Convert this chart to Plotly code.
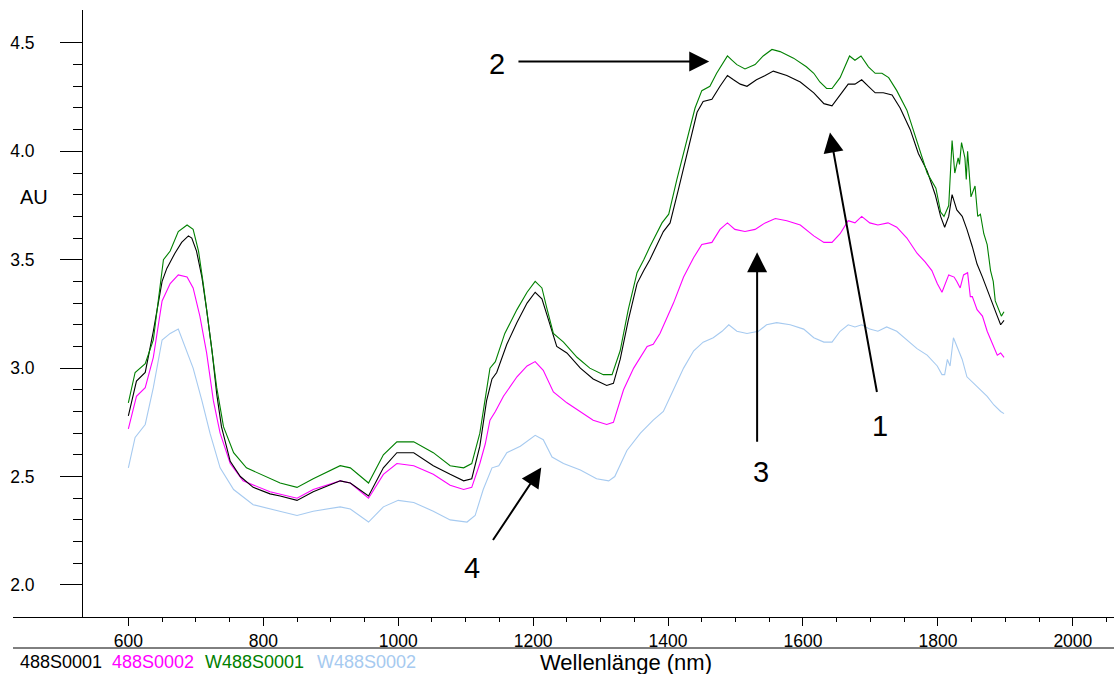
import plotly.graph_objects as go

# ---------------- data ----------------
wl_488S0001 = [600, 612, 625, 637, 650, 657, 669, 679, 689, 694, 701, 709, 716, 724, 731, 738, 751, 766, 785,
               810, 825, 850, 874, 914, 929, 956, 978, 998, 1023, 1052, 1077, 1097, 1109, 1121, 1131, 1139, 1146,
               1161, 1176, 1191, 1203, 1213, 1223, 1235, 1250, 1270, 1289, 1309, 1319, 1329, 1341, 1354, 1364,
               1373, 1393, 1403, 1415, 1430, 1443, 1452, 1465, 1477, 1488, 1497, 1507, 1517, 1531, 1544, 1556,
               1576, 1596, 1616, 1631, 1643, 1655, 1667, 1677, 1687, 1697, 1707, 1719, 1732, 1744, 1759, 1771,
               1784, 1796, 1804, 1810, 1816, 1821, 1828, 1836, 1843, 1851, 1858, 1866, 1873, 1881, 1888, 1893, 1898]
au_488S0001 = [2.78, 2.94, 2.98, 3.17, 3.40, 3.46, 3.53, 3.58, 3.61, 3.60, 3.54, 3.42, 3.27, 3.08, 2.88, 2.73, 2.57,
               2.50, 2.45, 2.42, 2.41, 2.39, 2.43, 2.48, 2.47, 2.41, 2.54, 2.61, 2.61, 2.55, 2.51, 2.48, 2.49, 2.64,
               2.85, 2.95, 2.98, 3.11, 3.21, 3.30, 3.35, 3.32, 3.22, 3.10, 3.07, 3.00, 2.95, 2.92, 2.93, 3.04, 3.22,
               3.39, 3.45, 3.50, 3.63, 3.67, 3.82, 4.02, 4.18, 4.23, 4.24, 4.30, 4.35, 4.33, 4.31, 4.30, 4.33, 4.35,
               4.37, 4.35, 4.32, 4.27, 4.22, 4.21, 4.26, 4.31, 4.31, 4.33, 4.30, 4.27, 4.27, 4.26, 4.20, 4.10, 3.99,
               3.91, 3.80, 3.70, 3.65, 3.70, 3.80, 3.73, 3.70, 3.64, 3.56, 3.48, 3.42, 3.36, 3.30, 3.24, 3.20, 3.22]

wl_488S0002 = [600, 612, 625, 637, 650, 662, 674, 687, 696, 706, 716, 726, 736, 751, 770, 795, 810, 850, 874, 914,
               929, 956, 978, 998, 1023, 1052, 1077, 1097, 1109, 1121, 1129, 1136, 1144, 1156, 1176, 1191, 1203,
               1215, 1230, 1250, 1270, 1289, 1309, 1319, 1334, 1349, 1369, 1378, 1388, 1408, 1423, 1438, 1450,
               1465, 1477, 1488, 1499, 1514, 1529, 1544, 1559, 1576, 1596, 1616, 1631, 1643, 1655, 1667, 1677,
               1687, 1699, 1711, 1726, 1739, 1754, 1769, 1781, 1791, 1799, 1806, 1816, 1824, 1828, 1833, 1838,
               1844, 1848, 1851, 1858, 1866, 1873, 1881, 1888, 1893, 1898]
au_488S0002 = [2.72, 2.87, 2.91, 3.05, 3.31, 3.39, 3.43, 3.42, 3.37, 3.24, 3.07, 2.85, 2.70, 2.56, 2.48, 2.45, 2.43,
               2.40, 2.44, 2.48, 2.47, 2.40, 2.51, 2.56, 2.55, 2.51, 2.46, 2.44, 2.45, 2.56, 2.65, 2.76, 2.80, 2.87,
               2.96, 3.01, 3.03, 2.99, 2.89, 2.84, 2.80, 2.76, 2.74, 2.75, 2.90, 3.00, 3.10, 3.11, 3.16, 3.30, 3.42,
               3.51, 3.57, 3.58, 3.64, 3.67, 3.64, 3.63, 3.64, 3.67, 3.69, 3.68, 3.66, 3.61, 3.58, 3.58, 3.62, 3.68,
               3.67, 3.70, 3.67, 3.66, 3.67, 3.65, 3.60, 3.53, 3.49, 3.45, 3.39, 3.35, 3.43, 3.42, 3.40, 3.37, 3.43,
               3.44, 3.33, 3.33, 3.27, 3.24, 3.17, 3.11, 3.06, 3.07, 3.05]

wl_W488S0001 = [600, 610, 625, 637, 652, 662, 674, 687, 696, 704, 711, 721, 731, 741, 756, 775, 805, 825, 850, 874,
                914, 929, 956, 978, 998, 1023, 1052, 1077, 1097, 1109, 1121, 1129, 1136, 1144, 1158, 1176, 1191,
                1203, 1213, 1220, 1230, 1245, 1265, 1284, 1304, 1317, 1329, 1341, 1354, 1364, 1373, 1391, 1401,
                1413, 1428, 1440, 1450, 1462, 1472, 1482, 1488, 1495, 1502, 1514, 1529, 1541, 1554, 1566, 1586,
                1605, 1616, 1625, 1635, 1643, 1655, 1669, 1677, 1686, 1697, 1707, 1717, 1727, 1739, 1754, 1769,
                1784, 1797, 1804, 1809, 1816, 1821, 1825, 1830, 1832, 1835, 1840, 1842, 1844, 1849, 1855, 1859,
                1863, 1868, 1873, 1878, 1882, 1885, 1890, 1894, 1898]
au_W488S0001 = [2.84, 2.98, 3.02, 3.13, 3.50, 3.54, 3.63, 3.66, 3.64, 3.54, 3.39, 3.16, 2.91, 2.73, 2.61, 2.54, 2.50,
                2.47, 2.45, 2.49, 2.55, 2.54, 2.47, 2.60, 2.66, 2.66, 2.61, 2.55, 2.54, 2.56, 2.70, 2.85, 3.00, 3.03,
                3.16, 3.27, 3.35, 3.40, 3.37, 3.28, 3.16, 3.12, 3.05, 3.00, 2.97, 2.97, 3.08, 3.27, 3.44, 3.50, 3.56,
                3.67, 3.71, 3.87, 4.05, 4.20, 4.28, 4.30, 4.36, 4.41, 4.44, 4.42, 4.40, 4.38, 4.40, 4.44, 4.47, 4.46,
                4.43, 4.39, 4.36, 4.32, 4.29, 4.29, 4.34, 4.44, 4.42, 4.44, 4.39, 4.36, 4.36, 4.34, 4.28, 4.19, 4.04,
                3.90, 3.83, 3.72, 3.70, 3.75, 4.05, 3.90, 3.97, 3.94, 4.04, 3.97, 3.87, 4.00, 3.79, 3.84, 3.70, 3.71,
                3.62, 3.57, 3.45, 3.40, 3.31, 3.27, 3.24, 3.26]

wl_W488S0002 = [600, 610, 625, 637, 650, 662, 674, 684, 696, 709, 721, 736, 756, 785, 825, 850, 874, 914, 929, 956,
                978, 1000, 1023, 1052, 1077, 1102, 1114, 1126, 1139, 1149, 1161, 1181, 1203, 1215, 1228, 1245, 1270,
                1294, 1312, 1321, 1339, 1359, 1378, 1393, 1408, 1423, 1438, 1452, 1467, 1480, 1490, 1502, 1517, 1534,
                1546, 1561, 1581, 1601, 1616, 1631, 1643, 1655, 1667, 1677, 1687, 1699, 1711, 1724, 1739, 1754, 1769,
                1784, 1799, 1806, 1810, 1814, 1818, 1823, 1828, 1836, 1843, 1853, 1863, 1873, 1883, 1893, 1898]
au_W488S0002 = [2.54, 2.68, 2.74, 2.91, 3.13, 3.16, 3.18, 3.10, 3.00, 2.85, 2.70, 2.54, 2.44, 2.37, 2.34, 2.32, 2.34,
                2.36, 2.35, 2.29, 2.36, 2.39, 2.38, 2.34, 2.30, 2.29, 2.32, 2.44, 2.54, 2.55, 2.61, 2.64, 2.69, 2.67,
                2.59, 2.56, 2.53, 2.49, 2.48, 2.50, 2.62, 2.70, 2.76, 2.80, 2.90, 3.00, 3.08, 3.12, 3.14, 3.17, 3.20,
                3.17, 3.16, 3.17, 3.20, 3.21, 3.20, 3.18, 3.14, 3.12, 3.12, 3.17, 3.20, 3.19, 3.20, 3.18, 3.17, 3.19,
                3.17, 3.13, 3.09, 3.06, 3.01, 2.97, 2.97, 3.04, 3.01, 3.14, 3.10, 3.04, 2.96, 2.93, 2.90, 2.87, 2.83,
                2.80, 2.79]

series_names = ["488S0001", "488S0002", "W488S0001", "W488S0002"]
series_colors = ["#000000", "#FF00FF", "#008000", "#A6CAF0"]
series_wl = [wl_488S0001, wl_488S0002, wl_W488S0001, wl_W488S0002]
series_au = [au_488S0001, au_488S0002, au_W488S0001, au_W488S0002]

y_major = [2.0, 2.5, 3.0, 3.5, 4.0, 4.5]
y_major_text = ["2.0", "2.5", "3.0", "3.5", "4.0", "4.5"]
y_minor = [2.1, 2.2, 2.3, 2.4, 2.6, 2.7, 2.8, 2.9, 3.1, 3.2, 3.3, 3.4, 3.6, 3.7, 3.8, 3.9,
           4.1, 4.2, 4.3, 4.4]
x_major = [600, 800, 1000, 1200, 1400, 1600, 1800, 2000]
x_minor = [650, 700, 750, 850, 900, 950, 1050, 1100, 1150, 1250, 1300, 1350, 1450, 1500, 1550,
           1650, 1700, 1750, 1850, 1900, 1950, 2050]

FONT = "Liberation Sans, Arial, sans-serif"
W, H = 1114, 674

fig = go.Figure()
# draw light blue first so darker lines sit on top
for i in [3, 1, 0, 2]:
    fig.add_trace(go.Scatter(x=series_wl[i], y=series_au[i], mode="lines",
                             line=dict(color=series_colors[i], width=1.1),
                             name=series_names[i], showlegend=False))

fig.update_layout(
    width=W, height=H,
    margin=dict(l=0, r=0, t=0, b=0),
    paper_bgcolor="white", plot_bgcolor="white",
    font=dict(family=FONT, size=17, color="black"),
    xaxis=dict(domain=[13 / W, 1], range=[429, 2061], anchor="y",
               showgrid=False, zeroline=False, showline=True, linecolor="black", linewidth=1,
               ticks="outside", ticklen=8, tickwidth=1, tickcolor="black",
               tickmode="array", tickvals=x_major, ticktext=[str(v) for v in x_major],
               tickfont=dict(size=17.5),
               minor=dict(tickmode="array", tickvals=x_minor, ticks="outside", ticklen=4,
                          tickwidth=1, tickcolor="black", showgrid=False)),
    yaxis=dict(domain=[57 / H, 664 / H], range=[1.852, 4.652], anchor="free", position=82 / W,
               showgrid=False, zeroline=False, showline=True, linecolor="black", linewidth=1,
               ticks="outside", ticklen=22, tickwidth=1, tickcolor="black",
               tickmode="array", tickvals=y_major, ticktext=y_major_text,
               tickfont=dict(size=17.5), ticklabelstandoff=22,
               minor=dict(tickmode="array", tickvals=y_minor, ticks="outside", ticklen=9,
                          tickwidth=1, tickcolor="black", showgrid=False)),
)

# separator line above the legend row
fig.add_shape(type="line", xref="paper", yref="paper", x0=13 / W, x1=1, y0=26 / H, y1=26 / H,
              line=dict(color="black", width=1))

# axis titles
fig.add_annotation(text="AU", xref="paper", yref="paper", x=34 / W, y=(H - 197) / H,
                   showarrow=False, font=dict(size=20), xanchor="center", yanchor="middle")
fig.add_annotation(text="Wellenlänge (nm)", xref="paper", yref="paper", x=626 / W, y=(H - 662) / H,
                   showarrow=False, font=dict(size=22), xanchor="center", yanchor="middle")

# legend row
legend_x = [18, 110, 203, 315]
for name, col, lx in zip(series_names, series_colors, legend_x):
    fig.add_annotation(text=name, xref="paper", yref="paper", x=lx / W, y=(H - 662) / H,
                       showarrow=False, font=dict(size=18, color=col), xanchor="left", yanchor="middle")

# arrows (head point, tail point) in data coordinates
arrows = [((1461, 4.415), (1176, 4.415)),
          ((1640, 4.087), (1710, 2.883)),
          ((1532, 3.534), (1532, 2.653)),
          ((1212, 2.542), (1139, 2.200))]
for (hx, hy), (tx, ty) in arrows:
    fig.add_annotation(x=hx, y=hy, ax=tx, ay=ty, xref="x", yref="y", axref="x", ayref="y",
                       text="", showarrow=True, arrowhead=2, arrowsize=2, arrowwidth=2,
                       arrowcolor="black", standoff=0, startstandoff=0)

labels = [("2", 1146.6, 4.401), ("1", 1714, 2.735), ("3", 1538, 2.519), ("4", 1109.5, 2.076)]
for t, lx, ly in labels:
    fig.add_annotation(text=t, x=lx, y=ly, xref="x", yref="y", showarrow=False,
                       font=dict(size=29, color="black"), xanchor="center", yanchor="middle")

fig.write_html("out.html")
